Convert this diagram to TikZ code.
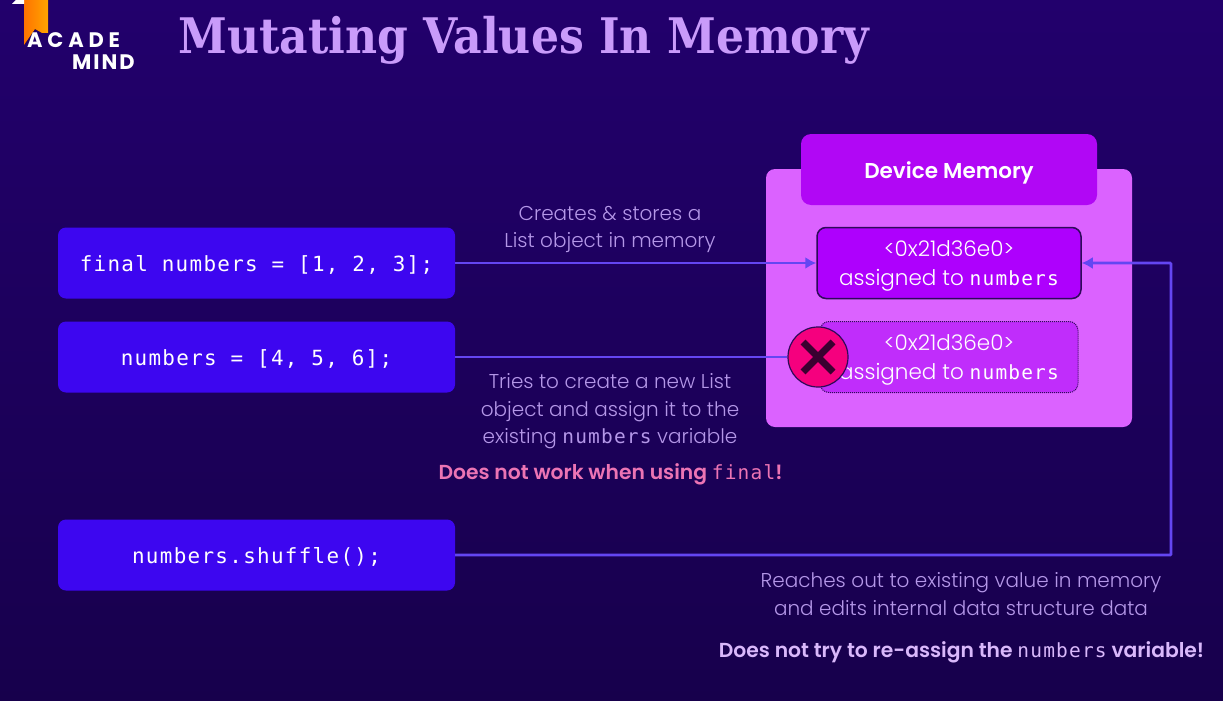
\documentclass[tikz,border=0pt]{standalone}
\usepackage{fontspec}
\setmainfont{Poppins}[UprightFont=* Light,BoldFont=* SemiBold]
\newfontfamily\codefont{DejaVu Sans Mono}[LetterSpace=6.3]
\newfontfamily\monofont{DejaVu Sans Mono}[LetterSpace=6]
\newfontfamily\titlefont{DejaVu Serif}[UprightFont=* Bold]
\newfontfamily\logofont{Poppins}[UprightFont=* Bold,LetterSpace=8]
\usetikzlibrary{arrows.meta,shadings}
\definecolor{bgtop}{HTML}{22006C}
\definecolor{bgbot}{HTML}{17004C}
\definecolor{codeblue}{HTML}{3D06F0}
\definecolor{memlight}{HTML}{DB62FF}
\definecolor{memdark}{HTML}{AE00FD}
\definecolor{memfade}{HTML}{C02DFB}
\definecolor{headbox}{HTML}{B107F5}
\definecolor{linecol}{HTML}{6446F2}
\definecolor{lilac}{HTML}{C99BFA}
\definecolor{notetxt}{HTML}{B497E8}
\definecolor{boldtxt}{HTML}{D9B8FB}
\definecolor{pinktxt}{HTML}{EC74B4}
\definecolor{xpink}{HTML}{F5007E}
\definecolor{xdark}{HTML}{3A0030}
\definecolor{edgecol}{HTML}{2E0A5A}
\tikzset{
  codebox/.style={fill=codeblue,rounded corners=8pt,minimum width=397pt,minimum height=71pt,inner sep=0pt,text=white,text height=16.5pt,text depth=0pt,font=\codefont\fontsize{20.9}{24}\selectfont},
  slotbox/.style={rounded corners=9pt,minimum width=264pt,minimum height=71pt,inner sep=0pt},
  slottext/.style={text=white,align=center,inner sep=0pt,font=\fontsize{21.5}{28.5}\selectfont},
  conn/.style={draw=linecol,line width=2.8pt},
  tip/.style={-{Latex[length=11pt,width=12pt]}},
  note/.style={text=notetxt,align=center,font=\fontsize{20}{27.5}\selectfont},
  strongnote/.style={font=\bfseries\fontsize{20.3}{24}\selectfont,inner sep=0pt},
}
\newcommand{\mono}[1]{{\monofont\fontsize{19.5}{24}\selectfont #1}}
\begin{document}
\begin{tikzpicture}[x=1pt,y=-1pt]
\useasboundingbox (0,0) rectangle (1223,701);
\shade[top color=bgtop,bottom color=bgbot] (0,0) rectangle (1223,701);
% logo
\fill[left color=orange!90!red,right color=orange!70!yellow] (24,0) -- (48,0) -- (48,33) -- (42,33) -- (35,29) -- (24,45) -- cycle;
\fill[white] (12,4) -- (16,0) -- (24,0) -- (24,4) -- cycle;
\node[text=white,font=\logofont\fontsize{21}{21}\selectfont,anchor=west,inner sep=0pt] (logoa) at (27,40.5) {A\kern4.8pt C\kern4.8pt A\kern4.8pt D\kern4.8pt E};
\node[text=white,font=\logofont\fontsize{21}{21}\selectfont,anchor=west,inner sep=0pt] (logob) at (72,62.5) {M\kern2pt I\kern2pt N\kern2pt D};
% title
\node[text=lilac,anchor=west,inner sep=0pt] (title) at (178,40) {\scalebox{0.9}[1]{\titlefont\fontsize{49}{50}\selectfont Mutating Values In Memory}};
% memory
\fill[memlight,rounded corners=9pt] (766,169) rectangle (1132,427);
\node[fill=headbox,rounded corners=10pt,minimum width=296pt,minimum height=71pt,inner sep=0pt,text=white,text height=17pt,text depth=0pt,font=\bfseries\fontsize{21.5}{26}\selectfont] (head) at (949,169.5) {Device Memory};
\node[slotbox,fill=memdark,draw=edgecol,line width=1.5pt] (slota) at (949,263) {};
\node[slottext] (slotat) at (949,266) {<0x21d36e0>\\assigned to \mono{numbers}};
\node[slotbox,fill=memfade,draw=edgecol,line width=1pt,densely dotted,minimum width=258pt] (slotb) at (949,357) {};
\node[slottext] (slotbt) at (949,360) {<0x21d36e0>\\assigned to \mono{numbers}};
% code
\node[codebox] (c1) at (256.5,263) {final numbers = [1, 2, 3];};
\node[codebox] (c2) at (256.5,357) {numbers = [4, 5, 6];};
\node[codebox] (c3) at (256.5,555) {numbers.shuffle();};
% x
\node[circle,fill=xpink,draw=edgecol,line width=1.2pt,minimum size=60pt,inner sep=0pt] (x) at (818,357) {};
\draw[xdark,line width=7pt] (803,342) -- (833,372) (833,342) -- (803,372);
% connectors
\draw[conn] (c2.east) -- (x.west);
\draw[conn,tip] (c1.east) -- (slota.west);
\coordinate (corner) at (1171,263);
\coordinate (cornerb) at (1171,555);
\draw[conn,tip,rounded corners=1pt] (c3.east) -- (cornerb) -- (corner) -- (slota.east);
% notes
\node[note] (n1) at (610,229.5) {Creates \& stores a\\List object in memory};
\node[note] (n2) at (610,411.5) {Tries to create a new List\\object and assign it to the\\existing \mono{numbers} variable};
\node[strongnote,text=pinktxt] (n3) at (610.5,474) {Does not work when using \mono{\mdseries final}!};
\node[note] (n4) at (961,594) {Reaches out to existing value in memory\\and edits internal data structure data};
\node[strongnote,text=boldtxt] (n5) at (961.5,652) {Does not try to re-assign the \mono{\mdseries numbers} variable!};
\end{tikzpicture}
\end{document}
